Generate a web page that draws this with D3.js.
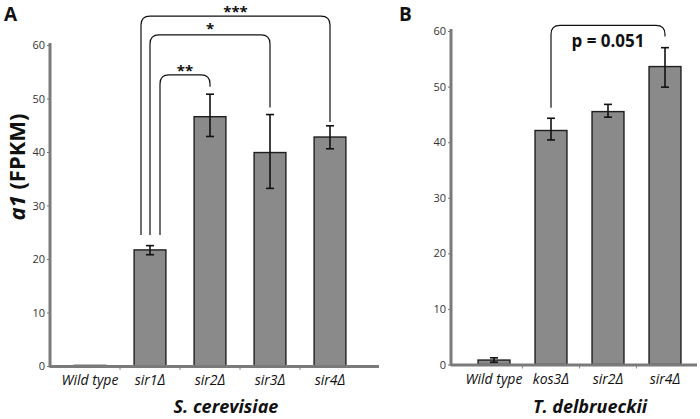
<!DOCTYPE html>
<html><head><meta charset="utf-8">
<script src="https://cdn.jsdelivr.net/npm/d3@7"></script>
<style>body{margin:0;background:#fff}svg{display:block}text{font-family:"Open Sans","Noto Sans",sans-serif}</style>
</head><body><svg id="c" width="700" height="419"></svg>
<script>
// Panel A (S. cerevisiae)
const catsA = ["Wild type", "sir1Δ", "sir2Δ", "sir3Δ", "sir4Δ"];
const valsA = [0.2, 21.7, 46.6, 39.9, 42.8];
const errLoA = [0.2, 20.8, 42.9, 33.2, 40.6];
const errHiA = [0.2, 22.5, 50.8, 47.0, 44.9];
// brackets: [fromIndex, toIndex, label, topValue, leftLegEnd, rightLegEnd]
const bracketsA = [
  [1, 4, "***", 65.4, 24.5, 45.6],
  [1, 3, "*", 61.9, 24.5, 48.3],
  [1, 2, "**", 54.4, 24.5, 52.2]
];
// Panel B (T. delbrueckii)
const catsB = ["Wild type", "kos3Δ", "sir2Δ", "sir4Δ"];
const valsB = [0.8, 42.1, 45.5, 53.6];
const errLoB = [0.4, 40.4, 44.5, 49.9];
const errHiB = [1.2, 44.3, 46.8, 57.0];
const bracketsB = [[1, 3, "p = 0.051", 61.0, 46.2, 59.0]];
const yTicks = [0, 10, 20, 30, 40, 50, 60];

const svg = d3.select("#c");

function panel(o) {
  const g = svg.append("g");
  const y = d3.scaleLinear().domain([0, 60]).range([o.y0, o.y1]);
  const x = d3.scaleBand().domain(o.cats).range([o.bx0, o.bx1]).paddingInner(o.pad).paddingOuter(o.pad / 2);
  // y axis
  const ya = g.append("g").attr("transform", `translate(${o.ax},0)`)
    .call(d3.axisLeft(y).tickValues(yTicks).tickSize(3).tickPadding(2));
  ya.select(".domain").remove();
  ya.selectAll(".tick line").attr("stroke", "#777").attr("stroke-width", 1);
  ya.selectAll(".tick text").attr("fill", "#333").style("font-size", "11px");
  g.append("line").attr("x1", o.ax).attr("x2", o.ax).attr("y1", y(60) - 2).attr("y2", y(0) + 1.5)
    .attr("stroke", "#7a7a7a").attr("stroke-width", 3);
  // x axis
  const bounds = o.cats.slice(1).map((c) => x(c) - x.step() * x.paddingInner() / 2);
  g.selectAll(".xt").data(bounds).join("line").attr("x1", d => d).attr("x2", d => d)
    .attr("y1", y(0)).attr("y2", y(0) + 4).attr("stroke", "#888").attr("stroke-width", 1);
  // bars
  g.selectAll(".bar").data(o.vals).join("rect")
    .attr("x", (d, i) => x(o.cats[i])).attr("width", x.bandwidth())
    .attr("y", d => y(d)).attr("height", d => y(0) - y(d))
    .attr("fill", "#8a8a8a").attr("stroke", (d) => d < 0.5 ? "#aaa" : "#1e1e1e").attr("stroke-width", 1.4);
  g.append("line").attr("x1", o.ax).attr("x2", o.axEnd).attr("y1", y(0) + 0.5).attr("y2", y(0) + 0.5)
    .attr("stroke", "#7a7a7a").attr("stroke-width", 3);
  // error bars
  o.vals.forEach((v, i) => {
    if (o.hi[i] - o.lo[i] < 0.01) return;
    const cx = x(o.cats[i]) + x.bandwidth() / 2;
    const eg = g.append("g").attr("stroke", "#111").attr("stroke-width", 1.6);
    eg.append("line").attr("x1", cx).attr("x2", cx).attr("y1", y(o.lo[i])).attr("y2", y(o.hi[i]));
    eg.append("line").attr("x1", cx - 4).attr("x2", cx + 4).attr("y1", y(o.lo[i])).attr("y2", y(o.lo[i]));
    eg.append("line").attr("x1", cx - 4).attr("x2", cx + 4).attr("y1", y(o.hi[i])).attr("y2", y(o.hi[i]));
  });
  // category labels
  g.selectAll(".cl").data(o.cats).join("text")
    .attr("x", d => x(d) + x.bandwidth() / 2).attr("y", o.catY)
    .attr("text-anchor", "middle").style("font-size", "14px").style("font-style", "italic")
    .attr("fill", "#111").text(d => d);
  // species title
  g.append("text").attr("x", o.titleX).attr("y", 413).attr("text-anchor", "middle")
    .style("font-size", "18px").style("font-weight", "bold").style("font-style", "italic")
    .attr("fill", "#111").text(o.title);
  // brackets
  o.brackets.forEach(b => {
    const x1 = x(o.cats[b[0]]) + x.bandwidth() / 2 + (o.legOff ? o.legOff(b) : 0);
    const x2 = x(o.cats[b[1]]) + x.bandwidth() / 2;
    const yt = y(b[3]), r = 9;
    const p = d3.path();
    p.moveTo(x1, y(b[4])); p.lineTo(x1, yt + r);
    p.quadraticCurveTo(x1, yt, x1 + r, yt);
    p.lineTo(x2 - r, yt);
    p.quadraticCurveTo(x2, yt, x2, yt + r);
    p.lineTo(x2, y(b[5]));
    g.append("path").attr("d", p.toString()).attr("fill", "none").attr("stroke", "#111").attr("stroke-width", 1.2);
    g.append("text").attr("x", (x1 + x2) / 2).attr("y", yt - o.labOff(b))
      .attr("text-anchor", "middle").style("font-size", o.labSize(b)).style("font-weight", "bold")
      .attr("fill", "#111").text(b[2]);
  });
  // panel letter
  g.append("text").attr("x", o.letterX).attr("y", 21).style("font-size", "19px").style("font-weight", "bold")
    .attr("fill", "#111").text(o.letter);
  return g;
}

panel({cats: catsA, vals: valsA, lo: errLoA, hi: errHiA, brackets: bracketsA,
  y0: 366, y1: 45, bx0: 60, bx1: 360, pad: 0.47, ax: 50, axEnd: 379, catY: 385,
  title: "S. cerevisiae", titleX: 226, letter: "A", letterX: 4,
  legOff: b => ({"***": -9, "*": 0, "**": 10})[b[2]],
  labOff: b => b[2].length > 1 ? -1 : 1, labSize: b => "15px"});

panel({cats: catsB, vals: valsB, lo: errLoB, hi: errHiB, brackets: bracketsB,
  y0: 364.5, y1: 31, bx0: 465.5, bx1: 693.5, pad: 0.44, ax: 451, axEnd: 697, catY: 384,
  title: "T. delbrueckii", titleX: 590, letter: "B", letterX: 399,
  labOff: b => -22, labSize: b => "17px"});

// y label
svg.append("text").attr("transform", "translate(25,167) rotate(-90)").attr("text-anchor", "middle")
  .style("font-size", "22px").style("font-weight", "bold").attr("fill", "#111")
  .call(t => { t.append("tspan").style("font-style", "italic").text("a1"); t.append("tspan").text(" (FPKM)"); });
</script></body></html>
